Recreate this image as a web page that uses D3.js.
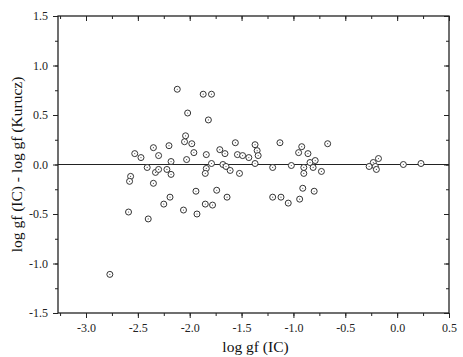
<!DOCTYPE html>
<html>
<head>
<meta charset="utf-8">
<script src="https://cdn.jsdelivr.net/npm/d3@7"></script>
<style>
  body { margin: 0; background: #fff; }
  svg { display: block; }
  .axis text { font-family: "Liberation Serif", "Times New Roman", serif; font-size: 12px; fill: #222; }
  .axis path, .axis line { stroke: #222; }
  .title { font-family: "Liberation Serif", "Times New Roman", serif; font-size: 15.5px; fill: #111; }
</style>
</head>
<body>
<div id="d3-container"></div>
<script>
/* CONSTANTS AND GLOBALS */
const width = 463,
  height = 357,
  margin = { top: 16, bottom: 44, left: 58, right: 14 },
  radius = 3;

/* DATA */
// log gf (IC)
const logGfIC = [
  -2.77, -2.59, -2.40, -2.57, -2.58, -2.53, -2.47, -2.41, -2.35, -2.30,
  -2.33, -2.30, -2.35, -2.20, -2.18, -2.22, -2.18, -2.19, -2.25, -2.05,
  -1.98, -2.04, -2.02, -2.12, -1.87, -1.79, -1.82, -1.96, -2.03, -1.84,
  -1.84, -1.85, -1.94, -2.06, -1.93, -1.85, -1.78, -1.74, -1.64, -1.79,
  -1.71, -1.66, -1.68, -1.65, -1.61, -1.52, -1.56, -1.54, -1.49, -1.43,
  -1.37, -1.35, -1.34, -1.37, -1.20, -1.13, -1.20, -1.12, -1.05, -0.94,
  -0.91, -0.80, -1.02, -0.95, -0.92, -0.86, -0.90, -0.90, -0.84, -0.79,
  -0.81, -0.73, -0.67, -0.18, -0.23, -0.27, -0.21, -0.20, 0.06, 0.23
];
// log gf (IC) - log gf (Kurucz)
const logGfDiff = [
  -1.11, -0.48, -0.55, -0.12, -0.17, 0.11, 0.07, -0.03, 0.17, 0.09,
  -0.08, -0.05, -0.19, 0.19, 0.03, -0.05, -0.10, -0.33, -0.40, 0.23,
  0.21, 0.29, 0.52, 0.76, 0.71, 0.71, 0.45, 0.12, 0.05, 0.10,
  -0.04, -0.09, -0.27, -0.46, -0.50, -0.40, -0.41, -0.26, -0.33, 0.01,
  0.15, 0.11, 0.00, -0.02, -0.06, -0.09, 0.22, 0.10, 0.09, 0.07,
  0.20, 0.14, 0.09, 0.01, -0.03, 0.22, -0.33, -0.33, -0.39, -0.35,
  -0.24, -0.27, -0.01, 0.12, 0.18, 0.11, -0.03, -0.09, 0.02, 0.04,
  -0.03, -0.07, 0.21, 0.06, 0.02, -0.02, -0.02, -0.05, 0.00, 0.01
];
const xTicks = [-3.0, -2.5, -2.0, -1.5, -1.0, -0.5, 0.0, 0.5];
const yTicks = [-1.5, -1.0, -0.5, 0.0, 0.5, 1.0, 1.5];
const xMinor = d3.range(-3.25, 0.5, 0.25);
const yMinor = d3.range(-1.25, 1.5, 0.25);

const points = logGfIC.map((x, i) => ({ x: x, y: logGfDiff[i] }));

/* SCALES */
const xScale = d3.scaleLinear()
  .domain([-3.27, 0.5])
  .range([margin.left, width - margin.right]);
const yScale = d3.scaleLinear()
  .domain([-1.5, 1.5])
  .range([height - margin.bottom, margin.top]);

const fmt = d => d.toFixed(1);

/* SVG */
const svg = d3.select("#d3-container")
  .append("svg")
  .attr("width", width)
  .attr("height", height);

// frame
svg.append("rect")
  .attr("x", margin.left)
  .attr("y", margin.top)
  .attr("width", width - margin.left - margin.right)
  .attr("height", height - margin.top - margin.bottom)
  .attr("fill", "none")
  .attr("stroke", "#222")
  .attr("stroke-width", 1.3);

// + AXES (major with labels, outward)
svg.append("g")
  .attr("class", "axis x-axis")
  .attr("transform", `translate(0,${height - margin.bottom})`)
  .call(d3.axisBottom(xScale).tickValues(xTicks).tickFormat(fmt).tickSize(5).tickPadding(5))
  .call(g => g.select(".domain").remove());

svg.append("g")
  .attr("class", "axis y-axis")
  .attr("transform", `translate(${margin.left},0)`)
  .call(d3.axisLeft(yScale).tickValues(yTicks).tickFormat(fmt).tickSize(5).tickPadding(5))
  .call(g => g.select(".domain").remove());

// minor ticks, bottom and left
svg.append("g")
  .attr("class", "axis")
  .attr("transform", `translate(0,${height - margin.bottom})`)
  .call(d3.axisBottom(xScale).tickValues(xMinor).tickFormat("").tickSize(3))
  .call(g => g.select(".domain").remove());
svg.append("g")
  .attr("class", "axis")
  .attr("transform", `translate(${margin.left},0)`)
  .call(d3.axisLeft(yScale).tickValues(yMinor).tickFormat("").tickSize(3))
  .call(g => g.select(".domain").remove());

// top and right ticks pointing inward
svg.append("g")
  .attr("class", "axis")
  .attr("transform", `translate(0,${margin.top})`)
  .call(d3.axisTop(xScale).tickValues(xTicks).tickFormat("").tickSize(-5))
  .call(g => g.select(".domain").remove());
svg.append("g")
  .attr("class", "axis")
  .attr("transform", `translate(0,${margin.top})`)
  .call(d3.axisTop(xScale).tickValues(xMinor).tickFormat("").tickSize(-3))
  .call(g => g.select(".domain").remove());
svg.append("g")
  .attr("class", "axis")
  .attr("transform", `translate(${width - margin.right},0)`)
  .call(d3.axisRight(yScale).tickValues(yTicks).tickFormat("").tickSize(-5))
  .call(g => g.select(".domain").remove());
svg.append("g")
  .attr("class", "axis")
  .attr("transform", `translate(${width - margin.right},0)`)
  .call(d3.axisRight(yScale).tickValues(yMinor).tickFormat("").tickSize(-3))
  .call(g => g.select(".domain").remove());

// zero line
svg.append("line")
  .attr("x1", margin.left)
  .attr("x2", width - margin.right)
  .attr("y1", yScale(0))
  .attr("y2", yScale(0))
  .attr("stroke", "#222")
  .attr("stroke-width", 1.1);

// + POINTS
const dots = svg.selectAll(".dot")
  .data(points)
  .join("g")
  .attr("class", "dot")
  .attr("transform", d => `translate(${xScale(d.x)},${yScale(d.y)})`);
dots.append("circle")
  .attr("r", radius)
  .attr("fill", "#fff")
  .attr("stroke", "#333")
  .attr("stroke-width", 1);
dots.append("circle")
  .attr("r", 0.6)
  .attr("fill", "#555");

// + AXIS TITLES
svg.append("text")
  .attr("class", "title")
  .attr("x", (margin.left + width - margin.right) / 2 + 2)
  .attr("y", 352)
  .attr("text-anchor", "middle")
  .text("log gf (IC)");

svg.append("text")
  .attr("class", "title")
  .attr("transform", `translate(22,${(margin.top + height - margin.bottom) / 2}) rotate(-90)`)
  .attr("text-anchor", "middle")
  .text("log gf (IC) - log gf (Kurucz)");
</script>
</body>
</html>
